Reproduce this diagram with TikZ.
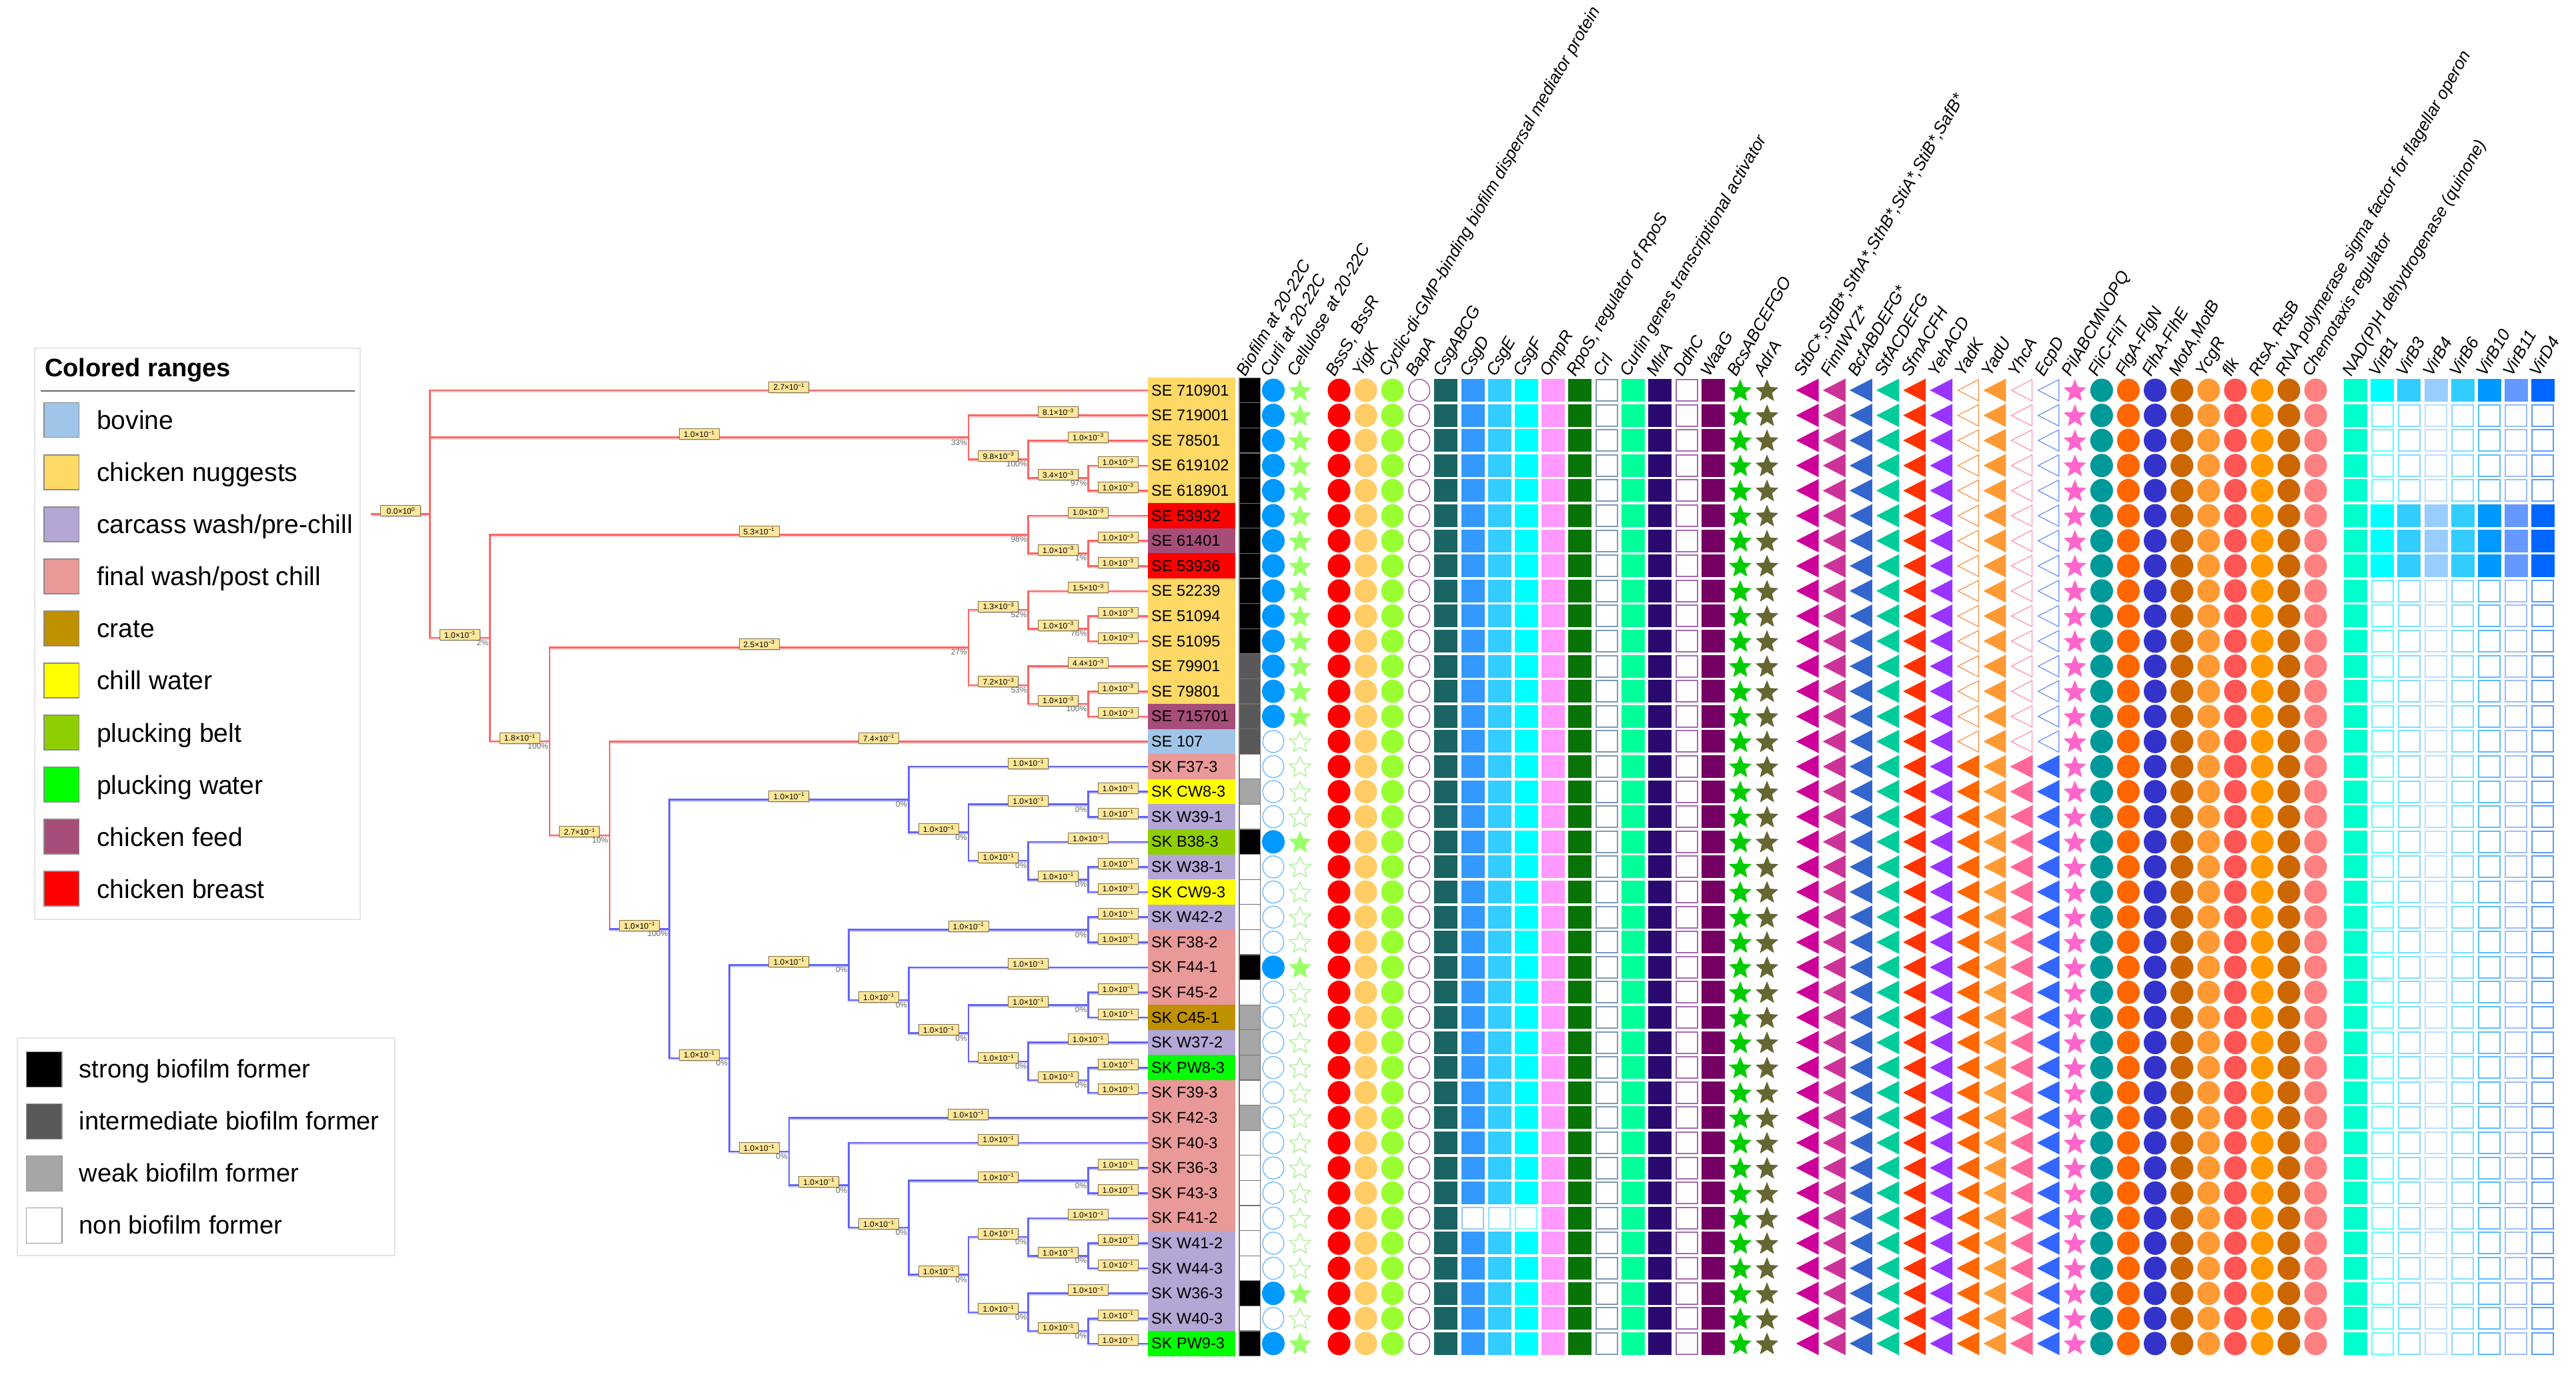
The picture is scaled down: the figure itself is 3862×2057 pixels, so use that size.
\documentclass[tikz,border=0pt]{standalone}
\usepackage{fontspec}
\setmainfont{Liberation Sans}
\usetikzlibrary{calc,shadows}
\pgfdeclarelayer{fg}
\pgfsetlayers{main,fg}
% tree / legend colours
\definecolor{tred}{HTML}{FF6464}\definecolor{tblue}{HTML}{6464FF}
\definecolor{lblf}{HTML}{FFE699}\definecolor{lblb}{HTML}{7F7350}
\definecolor{cNug}{HTML}{FFD966}\definecolor{cBov}{HTML}{9FC5E8}\definecolor{cCar}{HTML}{B4A7D6}
\definecolor{cFin}{HTML}{EA9999}\definecolor{cCrate}{HTML}{BF9000}\definecolor{cChill}{HTML}{FFFF00}
\definecolor{cBelt}{HTML}{8FCE00}\definecolor{cPW}{HTML}{00FF00}\definecolor{cFeed}{HTML}{A64D79}
\definecolor{cBre}{HTML}{FF0000}
\definecolor{bios}{HTML}{000000}\definecolor{bioi}{HTML}{595959}\definecolor{biow}{HTML}{A6A6A6}\definecolor{bion}{HTML}{FFFFFF}
% matrix colours
\definecolor{cCurli}{HTML}{0099FF}\definecolor{cCurliL}{HTML}{66B8FF}\definecolor{cCell}{HTML}{99FF66}\definecolor{cCellL}{HTML}{A8F090}
\definecolor{cBss}{HTML}{FF0000}\definecolor{cYig}{HTML}{FFCC66}\definecolor{cCyc}{HTML}{99FF33}\definecolor{cBap}{HTML}{A0559F}
\definecolor{cCsgA}{HTML}{1A6464}\definecolor{cCsgD}{HTML}{3399FF}\definecolor{cCsgE}{HTML}{33CCFF}\definecolor{cCsgF}{HTML}{00FFFF}
\definecolor{cOmp}{HTML}{FF99FF}\definecolor{cRpo}{HTML}{087408}\definecolor{cCrl}{HTML}{7E98B4}\definecolor{cCur}{HTML}{00FF99}
\definecolor{cMlr}{HTML}{2B0A70}\definecolor{cDdh}{HTML}{A36BB0}\definecolor{cWaa}{HTML}{750064}\definecolor{cBcs}{HTML}{00CC00}
\definecolor{cAdr}{HTML}{666633}
\definecolor{cStb}{HTML}{CC0099}\definecolor{cFim}{HTML}{CC3399}\definecolor{cBcf}{HTML}{3366CC}\definecolor{cStf}{HTML}{00CC99}
\definecolor{cSfm}{HTML}{FF3300}\definecolor{cYeh}{HTML}{9933FF}\definecolor{cYadK}{HTML}{FF6600}\definecolor{cYadU}{HTML}{FF9933}
\definecolor{cYhc}{HTML}{FF6699}\definecolor{cEcp}{HTML}{3366FF}\definecolor{cPil}{HTML}{FF66CC}\definecolor{cFli}{HTML}{009999}
\definecolor{cFlg}{HTML}{FF6600}\definecolor{cFlh}{HTML}{3333CC}\definecolor{cMot}{HTML}{CC6600}\definecolor{cYcg}{HTML}{FF9933}
\definecolor{cFlk}{HTML}{FF5555}\definecolor{cRts}{HTML}{FF9900}\definecolor{cRNA}{HTML}{CC6600}\definecolor{cChe}{HTML}{FF8080}
\definecolor{cNAD}{HTML}{00FFCC}\definecolor{cVa}{HTML}{00FFFF}\definecolor{cVb}{HTML}{33CCFF}\definecolor{cVc}{HTML}{99CCFF}
\definecolor{cVd}{HTML}{33CCFF}\definecolor{cVe}{HTML}{0099FF}\definecolor{cVf}{HTML}{6699FF}\definecolor{cVg}{HTML}{0066FF}
\newcommand\sci[2]{#1×10\textsuperscript{#2}}
\newcommand\mkNode[3]{\coordinate (#1) at ({644.7+89.7*#2},{585+37.6*#3});}
\newcommand\brch[5]{%
  \draw[br=#5] (#1) |- (#2);
  \begin{pgfonlayer}{fg}
  \node[lbl] (b#2) at ($(#1|-#2)!0.5!(#2)$) {#3};
  \if\relax\detokenize{#4}\relax\else\node[pct] (p#2) at (#2) {#4};\fi
  \end{pgfonlayer}}
\newcommand\bb[3]{\brch{#1}{#2}{\sci{1.0}{−1}}{#3}{tblue}}
\newcommand\starF[3]{\fill[#3] (#1,#2+1.5) +(-90:18) -- +(-54:8) -- +(-18:18) -- +(18:8) -- +(54:18) -- +(90:8) -- +(126:18) -- +(162:8) -- +(198:18) -- +(234:8) -- cycle;}
\newcommand\starO[3]{\draw[#3, line width=1.3pt, fill=white] (#1,#2+1.5) +(-90:16.5) -- +(-54:7.5) -- +(-18:16.5) -- +(18:7.5) -- +(54:16.5) -- +(90:7.5) -- +(126:16.5) -- +(162:7.5) -- +(198:16.5) -- +(234:7.5) -- cycle;}
\begin{document}
\begin{tikzpicture}[x=1pt,y=-1pt,
  br/.style={line width=2.6pt, draw=#1, line cap=rect, preaction={draw=#1!30, line width=2.6pt, transform canvas={yshift=-2pt}}},
  lbl/.style={draw=lblb, fill=lblf, line width=1pt, minimum width=60pt, minimum height=16pt, inner sep=0pt, yshift=5pt, font=\fontsize{12}{12}\selectfont, drop shadow={shadow xshift=1pt, shadow yshift=-1.5pt, opacity=0.35}},
  pct/.style={anchor=north east, inner sep=0pt, xshift=-2pt, yshift=-3pt, text=black!60, font=\fontsize{12}{12}\selectfont},
  hdr/.style={anchor=base west, rotate=60, inner sep=0pt, font=\fontsize{25.5}{28}\selectfont\itshape},
  rowlab/.style={anchor=west, inner sep=0pt, font=\fontsize{23.5}{26}\selectfont},
  legt/.style={anchor=base west, inner sep=0pt, font=\fontsize{39}{44}\selectfont}]
\useasboundingbox (0,0) rectangle (3862,2057);
\fill[white] (0,0) rectangle (3862,2057);

% ---------------- legends ----------------
\draw[black!10, line width=1.5pt] (52,522) rectangle (540,1378);
\node[anchor=base west, inner sep=0pt, font=\fontsize{38}{40}\selectfont\bfseries] (legtitle) at (67,564) {Colored ranges};
\draw[black!60, line width=1.5pt] (61,586) -- (532,586);
\foreach \nm/\col [count=\i from 0] in {{bovine}/cBov,{chicken nuggests}/cNug,{carcass wash/pre-chill}/cCar,{final wash/post chill}/cFin,{crate}/cCrate,{chill water}/cChill,{plucking belt}/cBelt,{plucking water}/cPW,{chicken feed}/cFeed,{chicken breast}/cBre}{
  \pgfmathsetmacro\yy{629.7+78.05*\i}
  \filldraw[fill=\col, draw=black!45, line width=1.5pt] (66,{\yy-26}) rectangle (118.5,{\yy+26});
  \node[legt] (lg\i) at (145,{\yy+14}) {\nm};}
\draw[black!10, line width=1.5pt] (26,1556) rectangle (592,1882);
\foreach \nm/\col [count=\i from 0] in {{strong biofilm former}/bios,{intermediate biofilm former}/bioi,{weak biofilm former}/biow,{non biofilm former}/bion}{
  \pgfmathsetmacro\yy{1603+78*\i}
  \filldraw[fill=\col, draw=black!40, line width=1.5pt] (39.5,{\yy-26.5}) rectangle (93,{\yy+26.5});
  \node[legt, font=\fontsize{38}{42}\selectfont] (lb\i) at (118.6,{\yy+12}) {\nm};}

% ---------------- tree ----------------
\foreach \r in {0,...,38}{\coordinate (l\r) at (1721,{585+37.6*\r});}
\mkNode{R}{0}{4.935547}\coordinate (R0) at (557,{585+37.6*4.935547});
\mkNode{A}{9}{1.875}\mkNode{A2}{10}{2.75}\mkNode{A3}{11}{3.5}
\mkNode{N2}{1}{9.871094}\mkNode{B}{10}{5.75}\mkNode{B2}{11}{6.5}
\mkNode{N3}{2}{13.992188}\mkNode{C}{9}{10.25}\mkNode{C1}{10}{8.75}\mkNode{C1b}{11}{9.5}
\mkNode{C2}{10}{11.75}\mkNode{C2b}{11}{12.5}
\mkNode{N4}{3}{17.734375}\mkNode{N5}{4}{21.46875}
\mkNode{D}{8}{16.3125}\mkNode{D2}{9}{17.625}\mkNode{D3}{11}{16.5}\mkNode{D4}{10}{18.75}\mkNode{D5}{11}{19.5}
\mkNode{E}{5}{26.625}\mkNode{E1}{7}{22.90625}\mkNode{E1a}{11}{21.5}\mkNode{E1b}{8}{24.3125}
\mkNode{E2}{9}{25.625}\mkNode{E3}{11}{24.5}\mkNode{E4}{10}{26.75}\mkNode{E5}{11}{27.5}
\mkNode{F}{6}{30.34375}\mkNode{G}{7}{31.6875}\mkNode{H}{8}{33.375}\mkNode{H1}{11}{31.5}
\mkNode{H2}{9}{35.25}\mkNode{H3}{10}{33.75}\mkNode{H3b}{11}{34.5}\mkNode{H4}{10}{36.75}\mkNode{H4b}{11}{37.5}

\draw[br=tred] (R0) -- (R);
\begin{pgfonlayer}{fg}\node[lbl] (bR) at ($(R0)!0.5!(R)$) {\sci{0.0}{0}};\end{pgfonlayer}
\brch{R}{l0}{\sci{2.7}{−1}}{}{tred}
\brch{R}{A}{\sci{1.0}{−1}}{33\%}{tred}
\brch{A}{l1}{\sci{8.1}{−3}}{}{tred}
\brch{A}{A2}{\sci{9.8}{−3}}{100\%}{tred}
\brch{A2}{l2}{\sci{1.0}{−3}}{}{tred}
\brch{A2}{A3}{\sci{3.4}{−3}}{97\%}{tred}
\brch{A3}{l3}{\sci{1.0}{−3}}{}{tred}
\brch{A3}{l4}{\sci{1.0}{−3}}{}{tred}
\brch{R}{N2}{\sci{1.0}{−1}}{2\%}{tred}
\brch{N2}{B}{\sci{5.3}{−1}}{98\%}{tred}
\brch{B}{l5}{\sci{1.0}{−3}}{}{tred}
\brch{B}{B2}{\sci{1.0}{−3}}{1\%}{tred}
\brch{B2}{l6}{\sci{1.0}{−3}}{}{tred}
\brch{B2}{l7}{\sci{1.0}{−3}}{}{tred}
\brch{N2}{N3}{\sci{1.8}{−1}}{100\%}{tred}
\brch{N3}{C}{\sci{2.5}{−3}}{27\%}{tred}
\brch{C}{C1}{\sci{1.3}{−3}}{52\%}{tred}
\brch{C1}{l8}{\sci{1.5}{−3}}{}{tred}
\brch{C1}{C1b}{\sci{1.0}{−3}}{76\%}{tred}
\brch{C1b}{l9}{\sci{1.0}{−3}}{}{tred}
\brch{C1b}{l10}{\sci{1.0}{−3}}{}{tred}
\brch{C}{C2}{\sci{7.2}{−3}}{53\%}{tred}
\brch{C2}{l11}{\sci{4.4}{−3}}{}{tred}
\brch{C2}{C2b}{\sci{1.0}{−3}}{100\%}{tred}
\brch{C2b}{l12}{\sci{1.0}{−3}}{}{tred}
\brch{C2b}{l13}{\sci{1.0}{−3}}{}{tred}
\brch{N3}{N4}{\sci{2.7}{−1}}{10\%}{tred}
\brch{N4}{l14}{\sci{7.4}{−1}}{}{tred}
\draw[br=tred] (N4) -- (N4|-N5);
\draw[br=tblue] (N4|-N5) -- (N5);
\begin{pgfonlayer}{fg}
\node[lbl] (bN5) at ($(N4|-N5)!0.5!(N5)$) {\sci{1.0}{−1}};
\node[pct] (pN5) at (N5) {100\%};
\end{pgfonlayer}
\bb{N5}{D}{0\%}\bb{D}{l15}{}\bb{D}{D2}{0\%}\bb{D2}{D3}{0\%}\bb{D3}{l16}{}\bb{D3}{l17}{}
\bb{D2}{D4}{0\%}\bb{D4}{l18}{}\bb{D4}{D5}{0\%}\bb{D5}{l19}{}\bb{D5}{l20}{}
\bb{N5}{E}{0\%}\bb{E}{E1}{0\%}\bb{E1}{E1a}{0\%}\bb{E1a}{l21}{}\bb{E1a}{l22}{}
\bb{E1}{E1b}{0\%}\bb{E1b}{l23}{}\bb{E1b}{E2}{0\%}\bb{E2}{E3}{0\%}\bb{E3}{l24}{}\bb{E3}{l25}{}
\bb{E2}{E4}{0\%}\bb{E4}{l26}{}\bb{E4}{E5}{0\%}\bb{E5}{l27}{}\bb{E5}{l28}{}
\bb{E}{F}{0\%}\bb{F}{l29}{}\bb{F}{G}{0\%}\bb{G}{l30}{}\bb{G}{H}{0\%}
\bb{H}{H1}{0\%}\bb{H1}{l31}{}\bb{H1}{l32}{}\bb{H}{H2}{0\%}
\bb{H2}{H3}{0\%}\bb{H3}{l33}{}\bb{H3}{H3b}{0\%}\bb{H3b}{l34}{}\bb{H3b}{l35}{}
\bb{H2}{H4}{0\%}\bb{H4}{l36}{}\bb{H4}{H4b}{0\%}\bb{H4b}{l37}{}\bb{H4b}{l38}{}

% ---------------- labels, biofilm, curli, cellulose ----------------
\foreach \r/\nm/\col/\bio/\cf in {0/SE 710901/cNug/s/1,1/SE 719001/cNug/s/1,2/SE 78501/cNug/s/1,3/SE 619102/cNug/s/1,4/SE 618901/cNug/s/1,5/SE 53932/cBre/s/1,6/SE 61401/cFeed/s/1,7/SE 53936/cBre/s/1,8/SE 52239/cNug/s/1,9/SE 51094/cNug/s/1,10/SE 51095/cNug/s/1,11/SE 79901/cNug/i/1,12/SE 79801/cNug/i/1,13/SE 715701/cFeed/i/1,14/SE 107/cBov/i/0,15/SK F37-3/cFin/n/0,16/SK CW8-3/cChill/w/0,17/SK W39-1/cCar/n/0,18/SK B38-3/cBelt/s/1,19/SK W38-1/cCar/n/0,20/SK CW9-3/cChill/n/0,21/SK W42-2/cCar/n/0,22/SK F38-2/cFin/n/0,23/SK F44-1/cFin/s/1,24/SK F45-2/cFin/n/0,25/SK C45-1/cCrate/w/0,26/SK W37-2/cCar/w/0,27/SK PW8-3/cPW/w/0,28/SK F39-3/cFin/n/0,29/SK F42-3/cFin/w/0,30/SK F40-3/cFin/n/0,31/SK F36-3/cFin/n/0,32/SK F43-3/cFin/n/0,33/SK F41-2/cFin/n/0,34/SK W41-2/cCar/n/0,35/SK W44-3/cCar/n/0,36/SK W36-3/cCar/s/1,37/SK W40-3/cCar/n/0,38/SK PW9-3/cPW/s/1}{
  \pgfmathsetmacro\yy{585+37.6*\r}
  \fill[\col] (1721,{\yy-18.8}) rectangle (1852,{\yy+18.8});
  \node[rowlab] (lab\r) at (1726,\yy) {\nm};
  \filldraw[fill=bio\bio, draw=black!55, line width=1.2pt] (1858,{\yy-18.8}) rectangle (1889.5,{\yy+18.8});
  \ifnum\cf=1
    \fill[cCurli] (1909,\yy) ellipse (17 and 17.5);
    \starF{1949}{\yy}{cCell}
  \else
    \draw[cCurliL, line width=1.3pt, fill=white] (1909,\yy) ellipse (15.8 and 16.5);
    \starO{1949}{\yy}{cCellL}
  \fi}

% ---------------- matrix glyphs ----------------
\foreach \xx/\col in {2007.5/cBss,2047.6/cYig,2087.7/cCyc,3150.8/cFli,3190.9/cFlg,3231.0/cFlh,3271.1/cMot,3311.2/cYcg,3351.3/cFlk,3391.4/cRts,3431.5/cRNA,3471.6/cChe}{
  \foreach \r in {0,...,38}{\fill[\col] (\xx,{585+37.6*\r}) ellipse (17 and 17.5);}}
\foreach \r in {0,...,38}{\draw[cBap, line width=1.4pt, fill=white] (2127.8,{585+37.6*\r}) ellipse (15.8 and 16.5);}
\foreach \xx/\col in {2167.9/cCsgA,2328.3/cOmp,2368.4/cRpo,2448.6/cCur,2488.7/cMlr,2568.9/cWaa,3531.7/cNAD}{
  \foreach \r in {0,...,38}{\fill[\col] ({\xx-17.5},{585+37.6*\r-17}) rectangle ++(35,34);}}
\foreach \xx/\col in {2408.5/cCrl,2528.8/cDdh}{
  \foreach \r in {0,...,38}{\draw[\col, line width=2pt, fill=white] ({\xx-16},{585+37.6*\r-16}) rectangle ++(32,32);}}
\foreach \xx/\col in {2208.0/cCsgD,2248.1/cCsgE,2288.2/cCsgF}{
  \foreach \r in {0,...,38}{
    \ifnum\r=33 \draw[\col!55, line width=2pt, fill=white] ({\xx-16},{585+37.6*\r-16}) rectangle ++(32,32);
    \else \fill[\col] ({\xx-17.5},{585+37.6*\r-17}) rectangle ++(35,34);\fi}}
\foreach \xx/\col in {3571.8/cVa,3611.9/cVb,3652.0/cVc,3692.1/cVd,3732.2/cVe,3772.3/cVf,3812.4/cVg}{
  \foreach \r in {0,...,38}{
    \pgfmathtruncatemacro\on{(\r==0)||(\r==5)||(\r==6)||(\r==7)}
    \ifnum\on=1 \fill[\col] ({\xx-17.5},{585+37.6*\r-17}) rectangle ++(35,34);
    \else \draw[\col!65, line width=2pt, fill=white] ({\xx-16},{585+37.6*\r-16}) rectangle ++(32,32);\fi}}
\foreach \xx/\col in {2609.0/cBcs,2649.1/cAdr,3110.7/cPil}{
  \foreach \r in {0,...,38}{\pgfmathsetmacro\yy{585+37.6*\r}\starF{\xx}{\yy}{\col}}}
\foreach \xx/\col in {2709.7/cStb,2749.8/cFim,2789.9/cBcf,2830.0/cStf,2870.1/cSfm,2910.2/cYeh,2990.4/cYadU}{
  \foreach \r in {0,...,38}{\pgfmathsetmacro\yy{585+37.6*\r}
    \fill[\col] ({\xx-17},\yy) -- ({\xx+17},{\yy-17.5}) -- ({\xx+17},{\yy+17.5}) -- cycle;}}
\foreach \xx/\col in {2950.3/cYadK,3030.5/cYhc,3070.6/cEcp}{
  \foreach \r in {0,...,38}{\pgfmathsetmacro\yy{585+37.6*\r}
    \ifnum\r<15 \draw[\col!70, line width=1.3pt, fill=white] ({\xx-15},\yy) -- ({\xx+16},{\yy-16}) -- ({\xx+16},{\yy+16}) -- cycle;
    \else \fill[\col] ({\xx-17},\yy) -- ({\xx+17},{\yy-17.5}) -- ({\xx+17},{\yy+17.5}) -- cycle;\fi}}

% ---------------- column headers ----------------
\foreach \xx/\t [count=\i] in {1873.6/{Biofilm at 20-22C},1909/{Curli at 20-22C},1949/{Cellulose at 20-22C},2007.5/{BssS, BssR},2047.6/{YigK},2087.7/{Cyclic-di-GMP-binding biofilm dispersal mediator protein},2127.8/{BapA},2167.9/{CsgABCG},2208.0/{CsgD},2248.1/{CsgE},2288.2/{CsgF},2328.3/{OmpR},2368.4/{RpoS, regulator of RpoS},2408.5/{Crl},2448.6/{Curlin genes transcriptional activator},2488.7/{MlrA},2528.8/{DdhC},2568.9/{WaaG},2609.0/{BcsABCEFGO},2649.1/{AdrA},2709.7/{StbC*,StdB*,SthA*,SthB*,StiA*,StiB*,SafB*},2749.8/{FimIWYZ*},2789.9/{BcfABDEFG*},2830.0/{StfACDEFG},2870.1/{SfmACFH},2910.2/{YehACD},2950.3/{YadK},2990.4/{YadU},3030.5/{YhcA},3070.6/{EcpD},3110.7/{PilABCMNOPQ},3150.8/{FliC-FliT},3190.9/{FlgA-FlgN},3231.0/{FlhA-FlhE},3271.1/{MotA,MotB},3311.2/{YcgR},3351.3/{flk},3391.4/{RtsA, RtsB},3431.5/{RNA polymerase sigma factor for flagellar operon},3471.6/{Chemotaxis regulator},3531.7/{NAD(P)H dehydrogenase (quinone)},3571.8/{VirB1},3611.9/{VirB3},3652.0/{VirB4},3692.1/{VirB6},3732.2/{VirB10},3772.3/{VirB11},3812.4/{VirD4}}{
  \node[hdr] (hd\i) at ({\xx-6},566) {\t};}
\end{tikzpicture}
\end{document}
